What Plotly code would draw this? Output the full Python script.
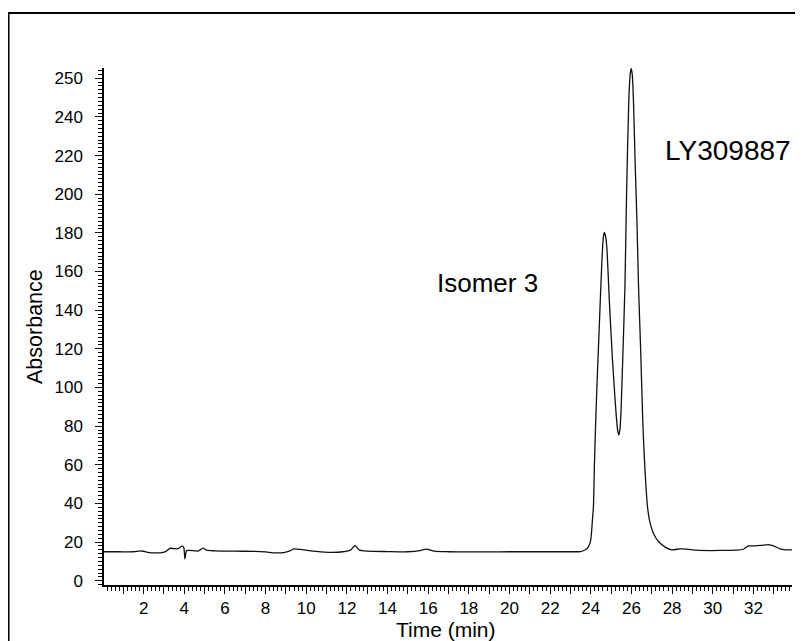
import plotly.graph_objects as go

# Chromatogram trace (time in min, absorbance)
time_min = [0.05, 0.8, 1.5, 1.9, 2.2, 2.6, 2.9, 3.1, 3.3, 3.5, 3.7, 3.9, 3.98, 4.03, 4.08, 4.12,
            4.5, 4.7, 4.92, 5.1, 5.5, 6.5, 7.5, 8.0, 8.5, 8.9, 9.2, 9.4, 9.8, 10.5, 11.2, 11.8,
            12.2, 12.4, 12.6, 13.0, 14.0, 15.0, 15.6, 15.9, 16.3, 17.0, 18.0, 19.0, 20.0, 21.0,
            22.0, 23.0, 23.5, 23.73, 23.89, 24.0, 24.07, 24.13, 24.18, 24.22, 24.30, 24.43,
            24.54, 24.62, 24.67, 24.73, 24.79, 24.92, 25.07, 25.22, 25.32, 25.38, 25.44, 25.49,
            25.58, 25.68, 25.76, 25.87, 25.94, 25.99, 26.04, 26.10, 26.18, 26.27, 26.35, 26.46,
            26.56, 26.64, 26.72, 26.79, 26.92, 27.08, 27.33, 27.66, 27.98, 28.39, 28.72, 29.2,
            29.9, 30.5, 31.2, 31.5, 31.76, 32.1, 32.4, 32.74, 33.0, 33.3, 33.6, 33.9]
absorbance = [15.0, 15.0, 15.0, 15.4, 14.7, 14.4, 14.5, 15.2, 16.8, 16.6, 16.6, 18.0, 17.0, 11.3, 14.5, 15.6,
              15.5, 15.4, 16.9, 15.8, 15.5, 15.3, 15.2, 14.9, 14.4, 14.6, 15.5, 16.5, 16.1, 15.2, 14.7, 15.0,
              16.0, 18.2, 16.0, 15.3, 15.1, 15.0, 15.6, 16.4, 15.3, 15.0, 14.9, 14.9, 15.0, 15.0,
              15.0, 15.0, 15.1, 16.0, 17.7, 21.2, 29.8, 38.3, 60.0, 75.0, 100.0, 134.7,
              164.0, 178.0, 180.3, 178.0, 172.5, 143.3, 114.0, 90.0, 78.0, 75.4, 79.0, 88.3,
              117.5, 151.9, 200.0, 248.3, 262.0, 265.0, 262.0, 248.3, 217.3, 186.3, 151.9, 117.5,
              82.0, 62.5, 48.0, 38.3, 29.8, 24.6, 20.3, 17.4, 16.0, 16.5, 16.4, 15.8,
              15.6, 15.7, 15.8, 16.3, 18.0, 18.0, 18.3, 18.7, 18.0, 16.5, 16.0, 16.0]

x_tick_vals = list(range(1, 34))
x_tick_text = [str(v) if v % 2 == 0 else "" for v in x_tick_vals]
y_tick_vals = [0, 20, 40, 60, 80, 100, 120, 140, 160, 180, 200, 220, 240, 260]
y_tick_text = ["0", "20", "40", "60", "80", "100", "120", "140", "160", "180", "200", "220", "240", "250"]

peak_labels = ["Isomer 3", "LY309887"]
peak_label_t = [18.9, 30.75]
peak_label_a = [154.0, 222.5]

FONT = "Liberation Sans, Arial, Helvetica, sans-serif"
label_sizes = {"Isomer 3": 26, "LY309887": 28}

fig = go.Figure()
fig.add_trace(go.Scatter(
    x=time_min, y=absorbance, mode="lines",
    line=dict(color="#111111", width=1.3, shape="spline", smoothing=0.6),
    showlegend=False, hoverinfo="skip"))

for txt, tx, ay in zip(peak_labels, peak_label_t, peak_label_a):
    fig.add_annotation(x=tx, y=ay, xref="x", yref="y", text=txt, showarrow=False,
                       font=dict(family=FONT, size=label_sizes[txt], color="black"),
                       xanchor="center", yanchor="middle")

fig.add_annotation(x=0.497, y=-0.087, xref="paper", yref="paper", text="Time (min)",
                   showarrow=False, font=dict(family=FONT, size=21, color="black"),
                   xanchor="center", yanchor="middle")
fig.add_annotation(x=-0.1003, y=0.501, xref="paper", yref="paper", text="Absorbance",
                   showarrow=False, textangle=-90,
                   font=dict(family=FONT, size=21.5, color="black"),
                   xanchor="center", yanchor="middle")

fig.add_shape(type="rect", xref="paper", yref="paper",
              x0=-0.1388, x1=1.0116, y0=-0.2, y1=1.1064,
              line=dict(color="black", width=2), fillcolor="rgba(0,0,0,0)")

fig.update_xaxes(
    range=[0.05, 33.9], showgrid=False, zeroline=False,
    showline=True, linecolor="black", linewidth=1.5,
    tickmode="array", tickvals=x_tick_vals, ticktext=x_tick_text,
    ticks="outside", ticklen=7, tickwidth=1, tickcolor="black",
    tickfont=dict(family=FONT, size=17, color="black"),
    minor=dict(dtick=0.2, tick0=0, ticks="outside", ticklen=4, tickwidth=1, tickcolor="black"))
fig.update_yaxes(
    range=[-2.2, 265.3], showgrid=False, zeroline=False,
    showline=True, linecolor="black", linewidth=1.5,
    tickmode="array", tickvals=y_tick_vals, ticktext=y_tick_text,
    ticks="outside", ticklen=7, tickwidth=1, tickcolor="black",
    ticklabelstandoff=9,
    tickfont=dict(family=FONT, size=17, color="black"),
    minor=dict(dtick=2, tick0=0, ticks="outside", ticklen=4, tickwidth=1, tickcolor="black"))

fig.update_layout(
    width=795, height=633,
    margin=dict(l=96, r=11, t=60, b=56),
    paper_bgcolor="white", plot_bgcolor="white",
    font=dict(family=FONT, color="black"))

fig.write_html("out.html")
